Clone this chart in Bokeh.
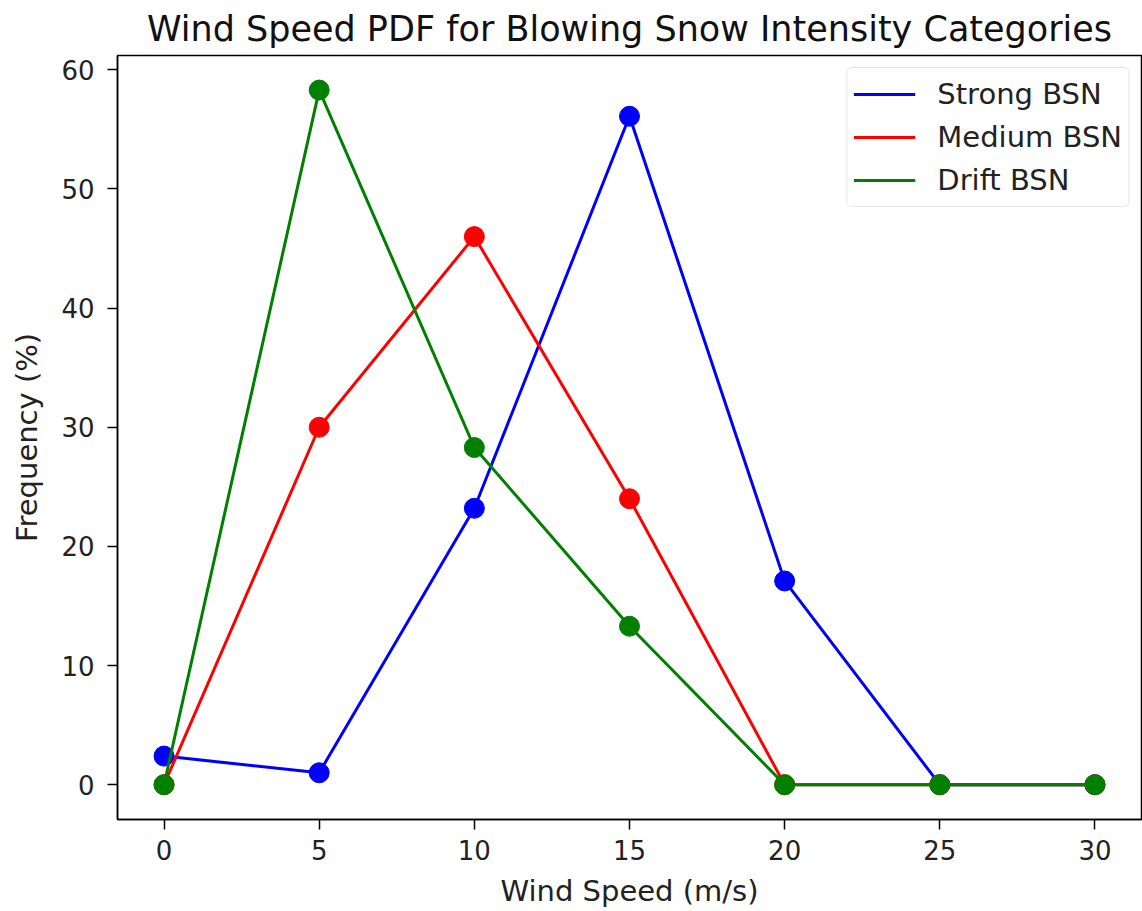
from bokeh.plotting import figure
from bokeh.models import Range1d, FixedTicker, Legend, LegendItem
from bokeh.embed import file_html
from bokeh.resources import INLINE

wind_speed = [0, 5, 10, 15, 20, 25, 30]
strong = [2.4, 1.0, 23.2, 56.1, 17.1, 0.0, 0.0]
medium = [0.0, 30.0, 46.0, 24.0, 0.0, 0.0, 0.0]
drift = [0.0, 58.3, 28.3, 13.3, 0.0, 0.0, 0.0]
series_names = ["Strong BSN", "Medium BSN", "Drift BSN"]
series_colors = ["#0000ff", "#ff0000", "#008000"]
x_ticks = [0, 5, 10, 15, 20, 25, 30]
y_ticks = [0, 10, 20, 30, 40, 50, 60]

FONT = "DejaVu Sans"

p = figure(width=1142, height=911, output_backend="svg", toolbar_location=None,
           x_range=Range1d(-1.5, 31.5), y_range=Range1d(-2.92, 61.2),
           min_border_left=117, min_border_right=1, min_border_top=55,
           min_border_bottom=92)

p.title.text = "Wind Speed PDF for Blowing Snow Intensity Categories"
p.title.text_font = FONT
p.title.text_font_size = "35px"
p.title.text_font_style = "normal"
p.title.text_color = "#111111"
p.title.align = "center"
p.title.offset = 0
p.title.standoff = 13

p.xgrid.visible = False
p.ygrid.visible = False
p.outline_line_color = "black"
p.outline_line_width = 1.5
p.background_fill_color = "white"
p.border_fill_color = "white"

for ax in (p.xaxis[0], p.yaxis[0]):
    ax.axis_label_text_font = FONT
    ax.axis_label_text_font_size = "29px"
    ax.axis_label_text_font_style = "normal"
    ax.axis_label_text_color = "#222222"
    ax.major_label_text_font = FONT
    ax.major_label_text_font_size = "26px"
    ax.major_label_text_color = "#222222"
    ax.major_tick_out = 10
    ax.major_tick_in = 0
    ax.minor_tick_out = 0
    ax.minor_tick_in = 0
    ax.axis_line_color = "black"
    ax.axis_line_width = 1.5
    ax.major_tick_line_width = 1.5

p.xaxis.axis_label = "Wind Speed (m/s)"
p.yaxis.axis_label = "Frequency (%)"
p.xaxis.ticker = FixedTicker(ticks=x_ticks)
p.yaxis.ticker = FixedTicker(ticks=y_ticks)
p.xaxis.major_label_standoff = 10
p.yaxis.major_label_standoff = 13
p.xaxis.axis_label_standoff = 11
p.yaxis.axis_label_standoff = 14

items = []
for name, vals, col in zip(series_names, [strong, medium, drift], series_colors):
    r = p.line(wind_speed, vals, line_color=col, line_width=3)
    p.scatter(wind_speed, vals, size=20, fill_color=col, line_color=col, marker="circle")
    items.append(LegendItem(label=name, renderers=[r]))

legend = Legend(items=items, location="top_right")
legend.label_text_font = FONT
legend.label_text_font_size = "29px"
legend.label_text_color = "#222222"
legend.glyph_width = 62
legend.glyph_height = 40
legend.label_height = 40
legend.spacing = 3
legend.padding = 6
legend.margin = 12
legend.label_standoff = 22
legend.border_line_color = "#cccccc"
legend.border_line_width = 1.5
legend.border_radius = 5
legend.background_fill_alpha = 0.8
p.add_layout(legend)

open("out.html", "w").write(file_html(p, INLINE))
